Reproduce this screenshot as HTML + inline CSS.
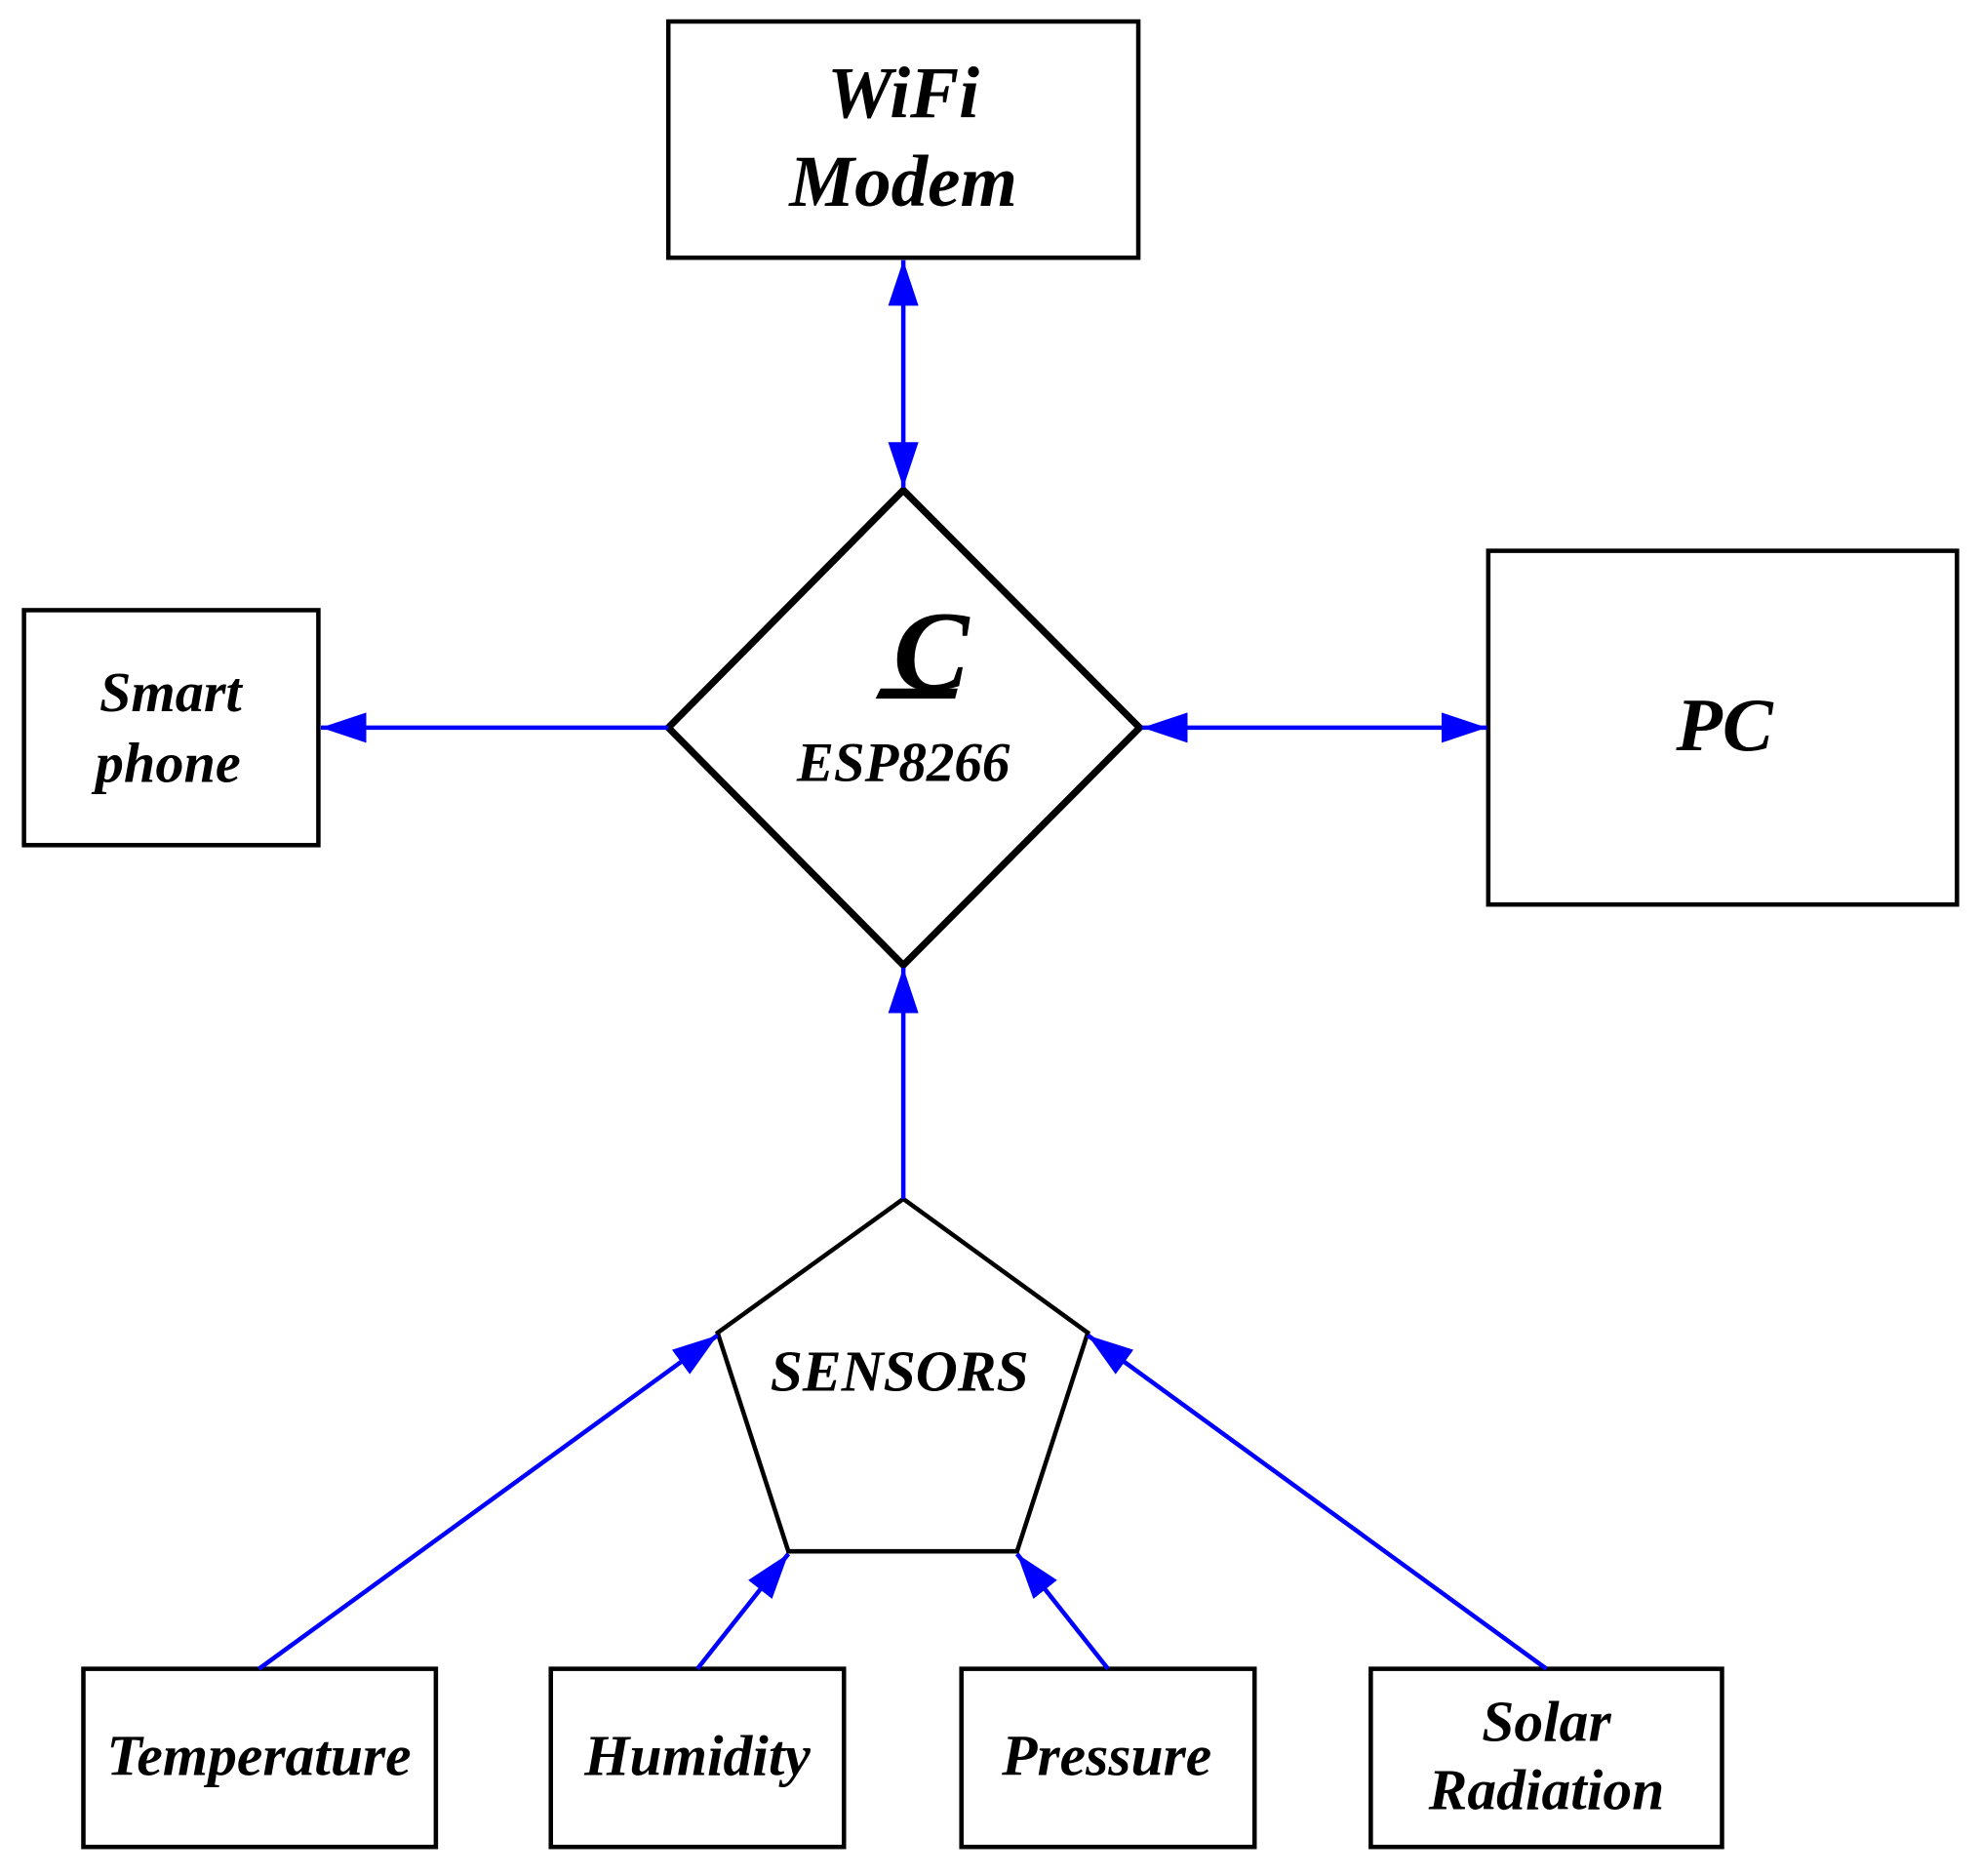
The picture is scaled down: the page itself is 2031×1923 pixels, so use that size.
<!DOCTYPE html>
<html><head><meta charset="utf-8"><style>
html,body{margin:0;padding:0;background:#fff}
svg{display:block}
text{font-family:"Liberation Serif",serif;font-weight:bold;font-style:italic;fill:#000;text-anchor:middle}
</style></head><body>
<svg width="2031" height="1923" viewBox="0 0 1568 1485" preserveAspectRatio="none" xmlns="http://www.w3.org/2000/svg">
<defs>
<marker id="a" viewBox="0 0 36 24" refX="36" refY="12" markerWidth="36" markerHeight="24" markerUnits="userSpaceOnUse" orient="auto-start-reverse">
<path d="M0,0 L36,12 L0,24 Z" fill="#0000ff"/></marker>
</defs>
<g fill="none" stroke="#000" stroke-width="3.5">
<rect x="529" y="17" width="372" height="187"/>
<rect x="19" y="483" width="233" height="186"/>
<rect x="1178" y="436" width="371" height="280"/>
<polygon points="715,949 861,1055 805,1228 624,1228 568,1055"/>
<rect x="66" y="1321" width="279" height="141"/>
<rect x="436" y="1321" width="232" height="141"/>
<rect x="761" y="1321" width="232" height="141"/>
<rect x="1085" y="1321" width="278" height="141"/>
<polygon points="715,388 902,576 715,764 529,576" stroke-width="5.5"/>
</g>
<g stroke="#0000ff" stroke-width="3.5" fill="none">
<line x1="715" y1="206" x2="715" y2="386" marker-start="url(#a)" marker-end="url(#a)"/>
<line x1="529" y1="576" x2="254" y2="576" marker-end="url(#a)"/>
<line x1="904" y1="576" x2="1177" y2="576" marker-start="url(#a)" marker-end="url(#a)"/>
<line x1="715" y1="949" x2="715" y2="766" marker-end="url(#a)"/>
<line x1="205" y1="1321" x2="568" y2="1057" marker-end="url(#a)"/>
<line x1="552" y1="1321" x2="624" y2="1230" marker-end="url(#a)"/>
<line x1="877" y1="1321" x2="805" y2="1230" marker-end="url(#a)"/>
<line x1="1224" y1="1321" x2="861" y2="1057" marker-end="url(#a)"/>
</g>
<text x="715" y="93" font-size="58">WiFi</text>
<text x="715" y="163" font-size="58">Modem</text>
<text x="135" y="563" font-size="45">Smart</text>
<text x="133" y="619" font-size="45">phone</text>
<text x="1365" y="594" font-size="60">PC</text>
<text x="737" y="546" font-size="90" font-weight="normal">C</text>
<polygon points="697,545 758,545 756,553 693,553" fill="#000"/>
<text x="715" y="618" font-size="44">ESP8266</text>
<text x="712" y="1101" font-size="46">SENSORS</text>
<text x="205" y="1405" font-size="46">Temperature</text>
<text x="552" y="1405" font-size="46">Humidity</text>
<text x="876" y="1405" font-size="46">Pressure</text>
<text x="1224" y="1378" font-size="46">Solar</text>
<text x="1224" y="1432" font-size="46">Radiation</text>
</svg>
</body></html>
